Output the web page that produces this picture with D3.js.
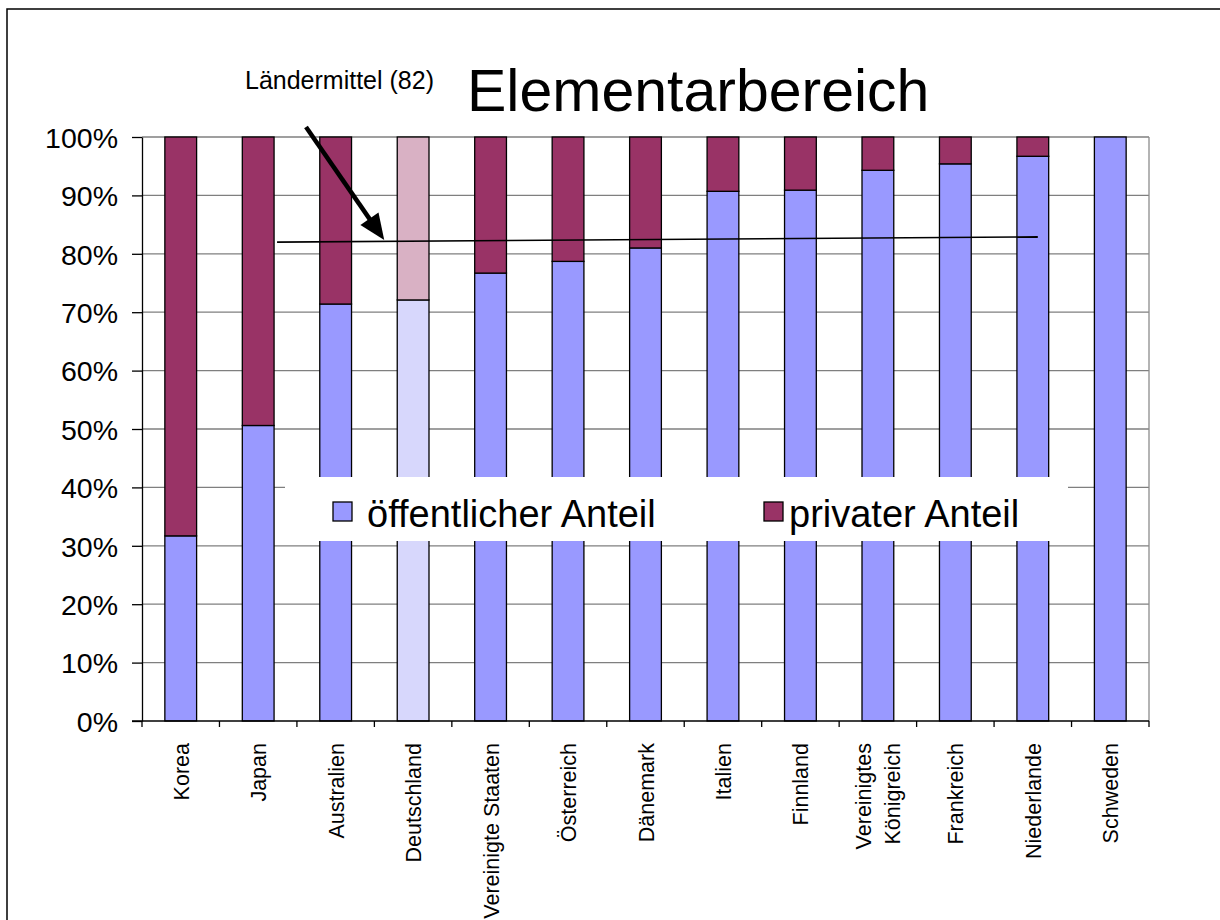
<!DOCTYPE html>
<html>
<head>
<meta charset="utf-8">
<script src="https://cdn.jsdelivr.net/npm/d3@7"></script>
<style>
  html, body { margin: 0; padding: 0; background: #fff; }
  svg { display: block; }
  text { font-family: "Liberation Sans", Arial, sans-serif; fill: #000; }
</style>
</head>
<body>
<svg id="chart" width="1220" height="920"></svg>
<script>
// ---- data ----
const categories = ["Korea", "Japan", "Australien", "Deutschland", "Vereinigte Staaten", "Österreich",
  "Dänemark", "Italien", "Finnland", "Vereinigtes Königreich", "Frankreich", "Niederlande", "Schweden"];
const publicShare = [31.7, 50.6, 71.4, 72.1, 76.7, 78.7, 81.0, 90.7, 90.9, 94.3, 95.4, 96.7, 100];
const privateShare = publicShare.map(v => +(100 - v).toFixed(1));
const highlighted = ["Deutschland"];
const yTicks = [0, 10, 20, 30, 40, 50, 60, 70, 80, 90, 100];
const seriesNames = ["öffentlicher Anteil", "privater Anteil"];
const titleText = "Elementarbereich";
const avgLabel = "Ländermittel (82)";
const avgLine = [{ cat: "Japan", v: 82.0 }, { cat: "Niederlande", v: 82.9 }];

// ---- styling ----
const colPublic = "#9999FF", colPrivate = "#993366";
const colPublicHi = "#D7D7FC", colPrivateHi = "#D9B1C4";

const svg = d3.select("#chart");

// outer frame
svg.append("rect").attr("x", 7).attr("y", 9).attr("width", 1230).attr("height", 940)
  .attr("fill", "none").attr("stroke", "#000").attr("stroke-width", 1.5);

const pLeft = 142, pRight = 1149, pTop = 137, pBottom = 721;
const x = d3.scaleBand().domain(categories).range([pLeft, pRight]).paddingInner(0.59).paddingOuter(0.295);
const y = d3.scaleLinear().domain([0, 100]).range([pBottom, pTop]);

// gridlines
svg.append("g").selectAll("line").data(yTicks.filter(t => t > 0)).join("line")
  .attr("x1", pLeft).attr("x2", pRight)
  .attr("y1", d => y(d)).attr("y2", d => y(d))
  .attr("stroke", "#7f7f7f").attr("stroke-width", 1.3);
// right plot border
svg.append("line").attr("x1", pRight).attr("x2", pRight).attr("y1", pTop).attr("y2", pBottom)
  .attr("stroke", "#8c8c8c").attr("stroke-width", 1.3);

// bars
const stackData = categories.map((c, i) => ({ cat: c, pub: publicShare[i], priv: privateShare[i] }));
const stack = d3.stack().keys(["pub", "priv"])(stackData);
const gBars = svg.append("g");
stack.forEach(layer => {
  gBars.append("g").selectAll("rect").data(layer).join("rect")
    .attr("x", d => x(d.data.cat))
    .attr("width", x.bandwidth())
    .attr("y", d => y(d[1]))
    .attr("height", d => y(d[0]) - y(d[1]))
    .attr("fill", d => {
      const hi = highlighted.includes(d.data.cat);
      if (layer.key === "pub") return hi ? colPublicHi : colPublic;
      return hi ? colPrivateHi : colPrivate;
    })
    .attr("stroke", "#000").attr("stroke-width", 1.3)
    .style("display", d => (d[1] - d[0]) > 0 ? null : "none");
});

// y axis
const yAxis = d3.axisLeft(y).tickValues(yTicks).tickFormat(d => d + "%").tickSize(10).tickSizeOuter(0);
const gy = svg.append("g").attr("transform", `translate(${pLeft},0)`).call(yAxis);
gy.select(".domain").attr("stroke", "#000").attr("stroke-width", 1.3);
gy.selectAll(".tick line").attr("stroke", "#000").attr("stroke-width", 1.3);
gy.selectAll(".tick text").attr("x", -24).attr("font-size", 28.5)
  .attr("font-family", "Liberation Sans, Arial, sans-serif").attr("fill", "#000").attr("dy", "0.36em");

// x axis: line with boundary ticks
svg.append("line").attr("x1", pLeft - 10).attr("x2", pRight).attr("y1", pBottom).attr("y2", pBottom)
  .attr("stroke", "#000").attr("stroke-width", 1.3);
const bounds = d3.range(categories.length + 1).map(i => pLeft + i * x.step());
svg.append("g").selectAll("line").data(bounds).join("line")
  .attr("x1", d => d).attr("x2", d => d).attr("y1", pBottom).attr("y2", pBottom + 6)
  .attr("stroke", "#000").attr("stroke-width", 1.3);

// x labels rotated
const gx = svg.append("g");
categories.forEach(c => {
  const cx = x(c) + x.bandwidth() / 2;
  const lines = c === "Vereinigtes Königreich" ? ["Vereinigtes", "Königreich"] : [c];
  lines.forEach((ln, j) => {
    const off = lines.length === 1 ? 8 : (j === 0 ? -7 : 22);
    gx.append("text")
      .attr("transform", `translate(${cx + off},${pBottom + 22}) rotate(-90)`)
      .attr("text-anchor", "end")
      .attr("font-size", 21.5)
      .text(ln);
  });
});

// average line
svg.append("line")
  .attr("x1", x(avgLine[0].cat) + x.bandwidth() + 3).attr("y1", y(avgLine[0].v))
  .attr("x2", x(avgLine[1].cat) + x.bandwidth() / 2 + 5).attr("y2", y(avgLine[1].v))
  .attr("stroke", "#000").attr("stroke-width", 1.6);

// legend box
const lg = svg.append("g");
lg.append("rect").attr("x", 285).attr("y", 477).attr("width", 783).attr("height", 64).attr("fill", "#fff");
const legendItems = [
  { name: seriesNames[0], col: colPublic, sx: 333, tx: 367 },
  { name: seriesNames[1], col: colPrivate, sx: 764, tx: 789 }
];
legendItems.forEach(it => {
  lg.append("rect").attr("x", it.sx).attr("y", 502).attr("width", 19).attr("height", 19)
    .attr("fill", it.col).attr("stroke", "#000").attr("stroke-width", 1.3);
  lg.append("text").attr("x", it.tx).attr("y", 527).attr("font-size", 38).text(it.name);
});

// title
svg.append("text").attr("x", 467).attr("y", 111).attr("font-size", 59).text(titleText);

// annotation
svg.append("text").attr("x", 245).attr("y", 89).attr("font-size", 25).text(avgLabel);

// arrow
const tipX = x("Deutschland") - 13, tipY = y(avgLine[0].v) - 2;
const startX = 306, startY = 127;
const ang = Math.atan2(tipY - startY, tipX - startX);
const headLen = 26, headW = 11;
const bx = tipX - headLen * Math.cos(ang), by = tipY - headLen * Math.sin(ang);
svg.append("line").attr("x1", startX).attr("y1", startY).attr("x2", bx + 2 * Math.cos(ang)).attr("y2", by + 2 * Math.sin(ang))
  .attr("stroke", "#000").attr("stroke-width", 4.5);
svg.append("path")
  .attr("d", `M${tipX},${tipY} L${bx + headW * Math.sin(ang)},${by - headW * Math.cos(ang)} L${bx - headW * Math.sin(ang)},${by + headW * Math.cos(ang)} Z`)
  .attr("fill", "#000");
</script>
</body>
</html>
